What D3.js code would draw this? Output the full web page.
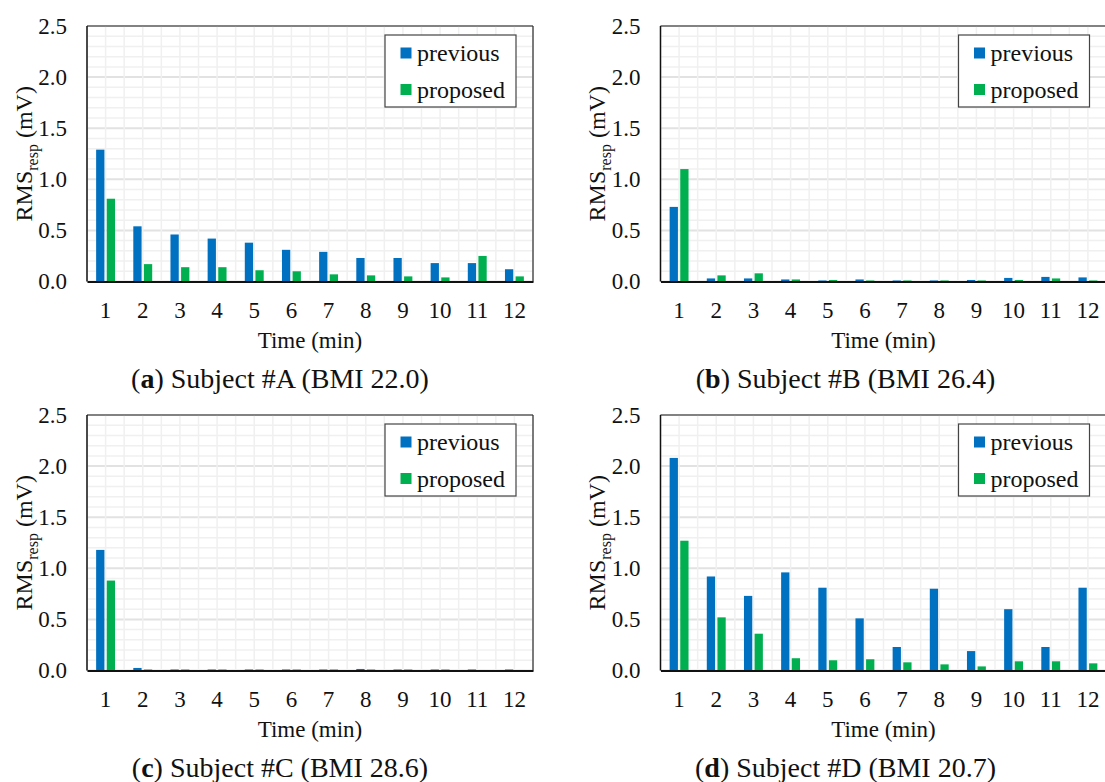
<!DOCTYPE html>
<html>
<head>
<meta charset="utf-8">
<script src="https://cdn.jsdelivr.net/npm/d3@7"></script>
<style>
  body { margin: 0; background: #fff; }
  svg { display: block; }
  text { font-family: "Liberation Serif", "Times New Roman", serif; fill: #111; }
</style>
</head>
<body>
<div id="viz"></div>
<script>
// data
const minutes = ["1", "2", "3", "4", "5", "6", "7", "8", "9", "10", "11", "12"];
const seriesNames = ["previous", "proposed"];
const yTicks = [0, 0.5, 1.0, 1.5, 2.0, 2.5];

const previousA = [1.29, 0.54, 0.46, 0.42, 0.38, 0.31, 0.29, 0.23, 0.23, 0.18, 0.18, 0.12];
const proposedA = [0.81, 0.17, 0.14, 0.14, 0.11, 0.10, 0.07, 0.06, 0.05, 0.04, 0.25, 0.05];

const previousB = [0.73, 0.03, 0.03, 0.02, 0.01, 0.02, 0.01, 0.01, 0.015, 0.035, 0.045, 0.04];
const proposedB = [1.10, 0.06, 0.08, 0.02, 0.015, 0.01, 0.01, 0.01, 0.01, 0.015, 0.03, 0.01];

const previousC = [1.18, 0.025, 0.01, 0.01, 0.01, 0.01, 0.01, 0.015, 0.01, 0.01, 0.01, 0.01];
const proposedC = [0.88, 0.01, 0.01, 0.01, 0.01, 0.01, 0.01, 0.01, 0.01, 0.01, 0.005, 0.005];

const previousD = [2.08, 0.92, 0.73, 0.96, 0.81, 0.51, 0.23, 0.80, 0.19, 0.60, 0.23, 0.81];
const proposedD = [1.27, 0.52, 0.36, 0.12, 0.10, 0.11, 0.08, 0.06, 0.04, 0.09, 0.09, 0.07];

const panelLetters = ["a", "b", "c", "d"];
const panelCaptions = [" Subject #A (BMI 22.0)", " Subject #B (BMI 26.4)", " Subject #C (BMI 28.6)", " Subject #D (BMI 20.7)"];

const colors = {previous: "#0070C0", proposed: "#00B050"};

const W = 1105, H = 782;
const svg = d3.select("#viz").append("svg")
  .attr("width", W)
  .attr("height", H);

// panel frames (left, top) in page pixels
const panelPos = [
  {x: 87, y: 26}, {x: 660.5, y: 26},
  {x: 87, y: 415}, {x: 660.5, y: 415}
];
const plotW = 446, plotH = 255.5;

const allPrev = [previousA, previousB, previousC, previousD];
const allProp = [proposedA, proposedB, proposedC, proposedD];

panelPos.forEach((p, i) => {
  const g = svg.append("g").attr("transform", "translate(" + p.x + "," + p.y + ")");

  const x = d3.scaleBand().domain(minutes).range([0, plotW]).padding(0);
  const xInner = d3.scaleBand().domain(seriesNames).range([0, x.bandwidth()])
    .paddingInner(0.22).paddingOuter(0.86);
  const y = d3.scaleLinear().domain([0, 2.5]).range([plotH, 0]);

  // grid: minor every 0.1, major every 0.5, vertical every half band
  const minor = d3.range(0, 2.51, 0.1);
  g.append("g").selectAll("line").data(minor).join("line")
    .attr("x1", 0).attr("x2", plotW)
    .attr("y1", d => y(d)).attr("y2", d => y(d))
    .attr("stroke", d => Math.abs(d * 2 - Math.round(d * 2)) < 1e-6 ? "#e2e2e2" : "#f0f0f0")
    .attr("stroke-width", d => Math.abs(d * 2 - Math.round(d * 2)) < 1e-6 ? 2 : 1.5);

  const vLines = [];
  minutes.forEach(m => { vLines.push(x(m)); vLines.push(x(m) + x.bandwidth() / 2); });
  g.append("g").selectAll("line").data(vLines).join("line")
    .attr("x1", d => d).attr("x2", d => d)
    .attr("y1", 0).attr("y2", plotH)
    .attr("stroke", "#f0f0f0").attr("stroke-width", 1.5);

  // bars
  const rows = minutes.map((m, k) => ({m: m, previous: allPrev[i][k], proposed: allProp[i][k]}));
  g.append("g").selectAll("g").data(rows).join("g")
    .attr("transform", d => "translate(" + x(d.m) + ",0)")
    .selectAll("rect")
    .data(d => seriesNames.map(s => ({key: s, value: d[s]})))
    .join("rect")
      .attr("x", d => xInner(d.key))
      .attr("width", xInner.bandwidth())
      .attr("y", d => y(d.value))
      .attr("height", d => plotH - y(d.value))
      .attr("fill", d => colors[d.key]);

  // frame
  g.append("line").attr("x1", plotW).attr("x2", plotW).attr("y1", 0).attr("y2", plotH)
    .attr("stroke", "#7a7a7a").attr("stroke-width", 2);
  g.append("line").attr("x1", 0).attr("x2", plotW).attr("y1", 0).attr("y2", 0)
    .attr("stroke", "#222").attr("stroke-width", 1.2);
  g.append("line").attr("x1", 0).attr("x2", 0).attr("y1", 0).attr("y2", plotH)
    .attr("stroke", "#111").attr("stroke-width", 1.5);

  // axes
  const yAxis = g.append("g")
    .call(d3.axisLeft(y).tickValues(yTicks).tickFormat(d3.format(".1f")).tickSize(0).tickPadding(20));
  yAxis.select(".domain").remove();
  yAxis.selectAll("text").attr("font-size", 23).attr("font-family", null).attr("fill", "#111");

  const xAxis = g.append("g")
    .attr("transform", "translate(0," + plotH + ")")
    .call(d3.axisBottom(x).tickSize(0).tickPadding(20));
  xAxis.select(".domain").attr("stroke", "#111").attr("stroke-width", 2.2);
  xAxis.selectAll("text").attr("font-size", 23).attr("font-family", null).attr("fill", "#111");

  // axis titles
  g.append("text")
    .attr("x", plotW / 2).attr("y", plotH + 66)
    .attr("text-anchor", "middle").attr("font-size", 23)
    .text("Time (min)");

  const yl = g.append("text")
    .attr("transform", "translate(-55.5," + (plotH / 2) + ") rotate(-90)")
    .attr("text-anchor", "middle").attr("font-size", 24);
  yl.append("tspan").text("RMS");
  yl.append("tspan").attr("font-size", 16).attr("dy", 6).text("resp");
  yl.append("tspan").attr("dy", -6).text(" (mV)");

  // legend
  const lg = g.append("g").attr("transform", "translate(298,9)");
  lg.append("rect").attr("width", 131).attr("height", 72)
    .attr("fill", "#fff").attr("stroke", "#444").attr("stroke-width", 1.2);
  seriesNames.forEach((s, k) => {
    lg.append("rect").attr("x", 15.5).attr("y", 12.5 + k * 36.5)
      .attr("width", 11).attr("height", 11).attr("fill", colors[s]);
    lg.append("text").attr("x", 32).attr("y", 26 + k * 36.5)
      .attr("font-size", 24).text(s);
  });

  // caption
  const capShift = (i % 2 === 0) ? -30 : -38;
  const cap = g.append("text")
    .attr("x", plotW / 2 + capShift).attr("y", plotH + 106.5)
    .attr("text-anchor", "middle").attr("font-size", 28);
  cap.append("tspan").text("(");
  cap.append("tspan").attr("font-weight", "bold").text(panelLetters[i]);
  cap.append("tspan").text(")" + panelCaptions[i]);
});
</script>
</body>
</html>
